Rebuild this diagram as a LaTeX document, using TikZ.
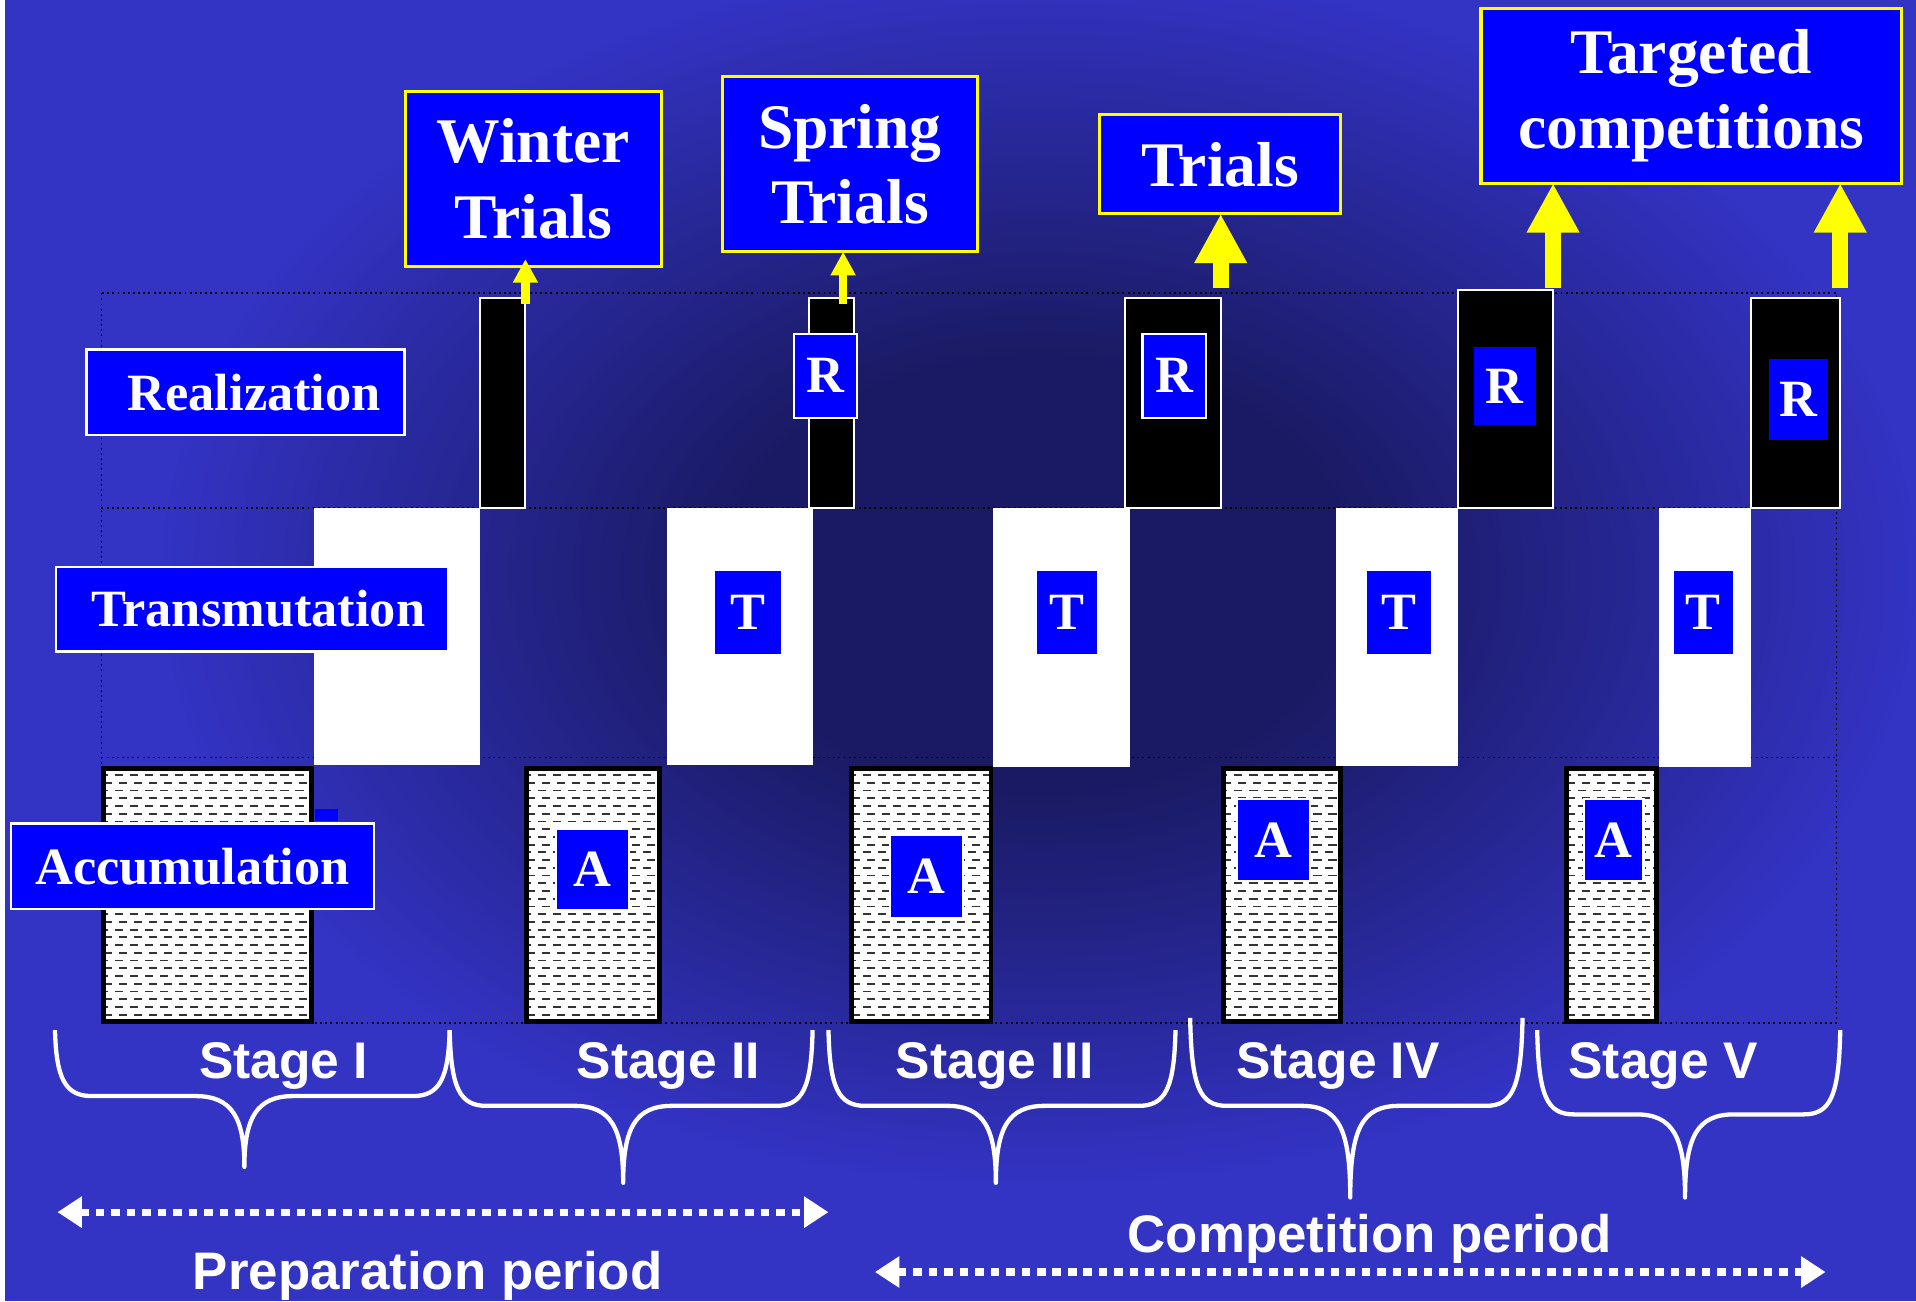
\documentclass[tikz,border=0pt]{standalone}
\usepackage{fontspec}
\setmainfont{Liberation Serif}
\setsansfont{Liberation Sans}
\usetikzlibrary{arrows.meta,calc}
\definecolor{bgmain}{RGB}{51,51,196}
\definecolor{bgdark}{RGB}{26,26,100}
\definecolor{lblue}{RGB}{0,0,255}
\definecolor{yel}{RGB}{255,255,0}
\pgfdeclareradialshading{bgsh}{\pgfpointorigin}{color(0bp)=(bgdark); color(9bp)=(bgdark); color(25bp)=(bgmain); color(50bp)=(bgmain)}
\newcommand\toplabfont{\fontsize{14.8pt}{17.6pt}\selectfont\bfseries}
\newcommand\sidelabfont{\fontsize{12.2pt}{14pt}\selectfont\bfseries}
\newcommand\mkbox[7]{\node[#6, minimum width={(#4-#2)*0.1mm}, minimum height={(#5-#3)*0.1mm}] (#1) at ({(#2+#4)/2},{(#3+#5)/2}) {#7};}
\newcommand\brc[6]{\draw[brace] (#1,#3) .. controls (#1+1,#4-15) and (#1+8,#4) .. (#1+30,#4) -- (#5-40,#4) .. controls (#5-10,#4) and (#5,#4+18) .. (#5,#6) .. controls (#5,#4+18) and (#5+10,#4) .. (#5+40,#4) -- (#2-30,#4) .. controls (#2-8,#4) and (#2-1,#4-15) .. (#2,#3);}
\begin{document}
\begin{tikzpicture}[x=0.1mm, y=-0.1mm,
  every node/.style={inner sep=0pt, outer sep=0pt},
  topbox/.style={draw=yel, line width=0.7pt, fill=lblue, text=white, font=\toplabfont, align=center},
  sidelab/.style={draw=white, line width=0.6pt, fill=lblue, text=white, font=\sidelabfont},
  letlab/.style={fill=lblue, text=white, font=\sidelabfont},
  letlabb/.style={letlab, draw=white, line width=0.5pt},
  rbar/.style={fill=black, draw=white, line width=0.45pt},
  tblock/.style={fill=white},
  hatchrow/.style={black!80, line width=0.42pt, dash pattern=on 1.9pt off 1.6pt},
  abox/.style={fill=white, draw=black, line width=1.15pt,
    path picture={\foreach \k in {1,...,36}{\pgfmathsetmacro\ph{mod(\k,2)*0.9}\draw[hatchrow, dash phase=\ph pt] ([yshift={-\k*1.8pt+0.3pt}]path picture bounding box.north west) -- ([yshift={-\k*1.8pt+0.3pt}]path picture bounding box.north east);}}},
  gridline/.style={black, line width=0.4pt, dash pattern=on 0.45pt off 0.75pt},
  yarrthin/.style={yel, line width=2pt, -{Triangle[length=5.5pt,width=5.5pt]}},
  yarrthick/.style={yel, line width=3.7pt, -{Triangle[length=11.5pt,width=11.5pt]}},
  brace/.style={white, line width=1pt, line join=round},
  periodarr/.style={white, line width=1.7pt, dash pattern=on 2pt off 1.6pt, {Triangle[length=5.7pt,width=7pt]}-{Triangle[length=5.7pt,width=7pt]}},
  stagetxt/.style={text=white, font=\sffamily\bfseries\fontsize{12pt}{14pt}\selectfont, anchor=base},
  periodtxt/.style={stagetxt, font=\sffamily\bfseries\fontsize{12.3pt}{14pt}\selectfont}]
\useasboundingbox (0,0) rectangle (1568,1065);
% background
\fill[bgmain] (0,0) rectangle (1568,1065);
\begin{scope}
\clip (0,0) rectangle (1568,1065);
\shade[shading=bgsh] (850,470) ellipse [x radius=72mm, y radius=50mm];
\end{scope}
\fill[white] (0,0) rectangle (4,1065);
% grid
\draw[gridline] (83,240) rectangle (1503,837);
\draw[gridline] (83,416) -- (1503,416);
\draw[gridline] (83,620) -- (1503,620);
% T blocks
\mkbox{t1}{257}{416}{393}{626}{tblock}{}
\mkbox{t2}{546}{416}{665}{626}{tblock}{}
\mkbox{t3}{813}{416}{925}{628}{tblock}{}
\mkbox{t4}{1093}{416}{1193}{627}{tblock}{}
\mkbox{t5}{1358}{416}{1433}{628}{tblock}{}
% A boxes
\mkbox{a1}{85}{629}{255}{836}{abox}{}
\mkbox{a2}{431}{629}{540}{836}{abox}{}
\mkbox{a3}{697}{629}{811}{836}{abox}{}
\mkbox{a4}{1001}{629}{1097}{836}{abox}{}
\mkbox{a5}{1282}{629}{1356}{836}{abox}{}
\fill[lblue] (258,662) rectangle (277,672);
% R bars
\mkbox{r1}{393}{244}{430}{416}{rbar}{}
\mkbox{r2}{662}{244}{699}{416}{rbar}{}
\mkbox{r3}{921}{244}{999}{416}{rbar}{}
\mkbox{r4}{1193}{237}{1271}{416}{rbar}{}
\mkbox{r5}{1433}{244}{1506}{416}{rbar}{}
% letter labels
\mkbox{rl2}{650}{273}{701}{342}{letlabb}{R}
\mkbox{rl3}{935}{273}{987}{342}{letlabb}{R}
\mkbox{rl4}{1206}{284}{1257}{348}{letlab}{R}
\mkbox{rl5}{1448}{294}{1496}{360}{letlab}{R}
\mkbox{tl2}{585}{467}{639}{535}{letlab}{T}
\mkbox{tl3}{849}{467}{898}{535}{letlab}{T}
\mkbox{tl4}{1119}{467}{1171}{535}{letlab}{T}
\mkbox{tl5}{1370}{467}{1418}{535}{letlab}{T}
\mkbox{al2}{455}{678}{515}{745}{letlabb}{A}
\mkbox{al3}{728}{683}{788}{751}{letlabb}{A}
\mkbox{al4}{1012}{654}{1072}{721}{letlabb}{A}
\mkbox{al5}{1296}{654}{1345}{721}{letlabb}{A}
% side labels
\mkbox{lr}{71}{286}{331}{356}{sidelab}{\hspace{4pt}Realization}
\mkbox{lt}{46}{464}{367}{533}{sidelab}{\hspace{2.8pt}Transmutation}
\mkbox{la}{9}{674}{306}{744}{sidelab}{Accumulation}
% top boxes
\mkbox{wt}{332}{75}{541}{218}{topbox}{Winter\\Trials}
\mkbox{st}{591}{63}{800}{206}{topbox}{Spring\\Trials}
\mkbox{tt}{900}{94}{1097}{175}{topbox}{Trials}
\mkbox{tc}{1212}{7}{1556}{150}{topbox}{Targeted\\competitions}
% yellow arrows
\draw[yarrthin] ($(r1.north east)+(0,5)$) -- ($(r1.north east |- wt.south)+(0,-6)$);
\draw[yarrthin] ($(r2.north east)+(-9,5)$) -- ($(r2.north east |- st.south)+(-9,0)$);
\draw[yarrthick] ($(r3.north east)+(0,-8)$) -- (r3.north east |- tt.south);
\draw[yarrthick] ($(r4.north east)+(0,-1)$) -- (r4.north east |- tc.south);
\draw[yarrthick] ($(r5.north east)+(0,-8)$) -- (r5.north east |- tc.south);
% braces
\brc{45}{368}{843}{897}{200}{955}
\brc{368}{665}{843}{905}{510}{968}
\brc{678}{962}{843}{905}{815}{968}
\brc{974}{1246}{833}{905}{1105}{980}
\brc{1258}{1506}{843}{912}{1379}{980}
% stage labels
\node[stagetxt] (s1) at (232,883) {Stage I};
\node[stagetxt] (s2) at (547,883) {Stage II};
\node[stagetxt] (s3) at (814,883) {Stage III};
\node[stagetxt] (s4) at (1095,883) {Stage IV};
\node[stagetxt] (s5) at (1361,883) {Stage V};
% periods
\coordinate (pl) at (47,992);
\coordinate (pr) at (678,992);
\draw[periodarr] (pl) -- (pr);
\node[periodtxt] (pp) at (350,1055) {Preparation period};
\coordinate (cl) at (716,1041);
\coordinate (cr) at (1494,1041);
\draw[periodarr] (cl) -- (cr);
\node[periodtxt] (cp) at (1121,1025) {Competition period};
\end{tikzpicture}
\end{document}
